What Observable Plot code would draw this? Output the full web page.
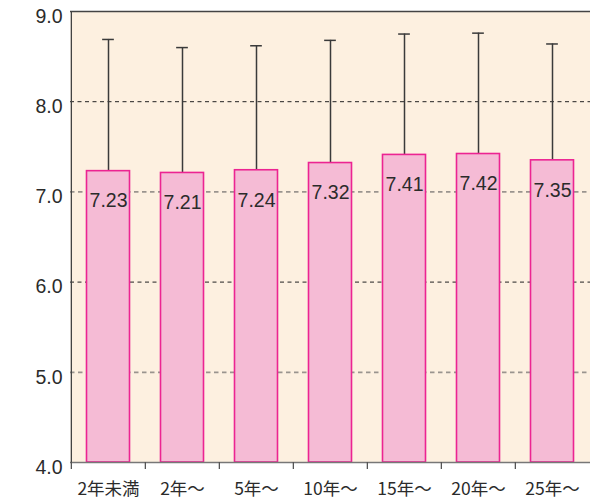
<!DOCTYPE html>
<html>
<head>
<meta charset="utf-8">
<script src="https://cdn.jsdelivr.net/npm/d3@7"></script>
<script src="https://cdn.jsdelivr.net/npm/@observablehq/plot@0.6"></script>
<style>
  html, body { margin: 0; padding: 0; background: #ffffff; }
  #chart { width: 590px; height: 499px; }
</style>
</head>
<body>
<div id="chart"></div>
<script>
const categories = ["2年未満", "2年〜", "5年〜", "10年〜", "15年〜", "20年〜", "25年〜"];
const means = [7.23, 7.21, 7.24, 7.32, 7.41, 7.42, 7.35];
const upper = [8.69, 8.60, 8.62, 8.68, 8.75, 8.76, 8.64];
const yTicks = [4, 5, 6, 7, 8, 9];
const darkGrid = [8, 6];
const lightGrid = [7, 5];

const yBase = yTicks[0];
const yTop = yTicks[yTicks.length - 1];
const rows = categories.map((c, i) => ({cat: c, mean: means[i], up: upper[i], base: yBase}));

const W = 590, H = 499;
const mL = 70, mR = 0, mT = 11, mB = 37;
const step = (W - mL - mR) / categories.length;
const capInset = (step - 12) / 2;
const barInset = 15.5;

const chart = Plot.plot({
  width: W,
  height: H,
  marginLeft: mL,
  marginRight: mR,
  marginTop: mT,
  marginBottom: mB,
  style: {fontFamily: "'Liberation Sans', Arial, sans-serif", background: "transparent", overflow: "visible"},
  x: {type: "band", domain: categories, padding: 0, label: null},
  y: {domain: [yBase, yTop], label: null},
  marks: [
    Plot.frame({fill: "#fdf0e0", stroke: "none"}),
    Plot.ruleY(darkGrid, {stroke: "#222", strokeWidth: 1, strokeDasharray: "4,3.5"}),
    Plot.ruleY(lightGrid, {stroke: "#9a948e", strokeWidth: 1.7, strokeDasharray: "4.5,3.5"}),
    Plot.ruleX(rows, {x: "cat", y1: "mean", y2: "up", stroke: "#3a3a3a", strokeWidth: 1.5}),
    Plot.tickY(rows, {x: "cat", y: "up", stroke: "#3a3a3a", strokeWidth: 1.5, insetLeft: capInset, insetRight: capInset}),
    Plot.rectY(rows, {x: "cat", y1: "base", y2: "mean", fill: "#f5bbd5", stroke: "#ec2492", strokeWidth: 1.6, insetLeft: barInset, insetRight: barInset}),
    Plot.text(rows, {x: "cat", y: "mean", text: d => d.mean.toFixed(2), dy: 30, fontSize: 19.5, fill: "#2b2b2b"}),
    Plot.ruleY([yTop], {stroke: "#444", strokeWidth: 1.3}),
    Plot.ruleY([yBase], {stroke: "#777", strokeWidth: 1.6}),
    Plot.ruleX([categories[0]], {dx: -step / 2, stroke: "#444", strokeWidth: 1.3}),
    Plot.axisY({ticks: yTicks, tickFormat: d3.format(".1f"), tickSize: 0, tickPadding: 8, fontSize: 19.5, dy: 5, fill: "#2b2b2b", label: null}),
    Plot.axisX({tickSize: 7, dx: -step / 2, tickFormat: () => "", stroke: "#555", strokeWidth: 1.3, label: null}),
    Plot.axisX({tickSize: 0, tickPadding: 20, fontSize: 17.5, fill: "#2b2b2b", fontFamily: "'Noto Sans CJK JP', sans-serif", label: null})
  ]
});

document.getElementById("chart").appendChild(chart);
</script>
</body>
</html>
